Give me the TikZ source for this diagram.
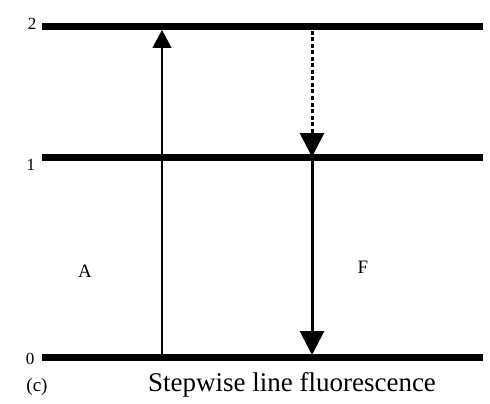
\documentclass[tikz,border=0pt]{standalone}
\usepackage{fontspec}
\setmainfont{Liberation Serif}
\usetikzlibrary{arrows.meta}
\begin{document}
\begin{tikzpicture}[x=1pt,y=-1pt,
  level/.style={line width=7pt},
  lbl/.style={font=\fontsize{17}{17}\selectfont, inner sep=0pt},
  tlbl/.style={font=\fontsize{19}{19}\selectfont, inner sep=0pt},
  uparrow/.style={line width=1.4pt,-{Triangle[length=18pt,width=19pt]}},
  downarrow/.style={line width=3pt,-{Triangle[length=24pt,width=24pt]}},
  dasharrow/.style={line width=3pt,dash pattern=on 4pt off 2.5pt,-{Triangle[length=24pt,width=24pt]}}]
\useasboundingbox (0,0) rectangle (490,404);
% level endpoints
\coordinate (L2a) at (42,27);  \coordinate (L2b) at (483,27);
\coordinate (L1a) at (42,157); \coordinate (L1b) at (483,157);
\coordinate (L0a) at (42,357); \coordinate (L0b) at (483,357);
\draw[level] (L2a) -- (L2b);
\draw[level] (L1a) -- (L1b);
\draw[level] (L0a) -- (L0b);
% level labels
\node[lbl] (n2) at (32,24) {2};
\node[lbl] (n1) at (31,165) {1};
\node[lbl] (n0) at (30,359) {0};
% transitions
\coordinate (Abot) at (162,357); \coordinate (Atop) at (162,30);
\draw[uparrow] (Abot) -- (Atop);
\coordinate (Dtop) at (312,31); \coordinate (Dmid) at (312,157);
\coordinate (Fbot) at (312,355);
\draw[dasharrow] (Dtop) -- (Dmid);
\draw[downarrow] (Dmid) -- (Fbot);
\node[tlbl] (A) at (85,271) {A};
\node[tlbl] (F) at (363,267) {F};
% caption
\node[tlbl] (c) at (37,387) {(c)};
\node[font=\fontsize{27}{27}\selectfont, inner sep=0pt] (cap) at (292,385) {Stepwise line fluorescence};
\end{tikzpicture}
\end{document}
